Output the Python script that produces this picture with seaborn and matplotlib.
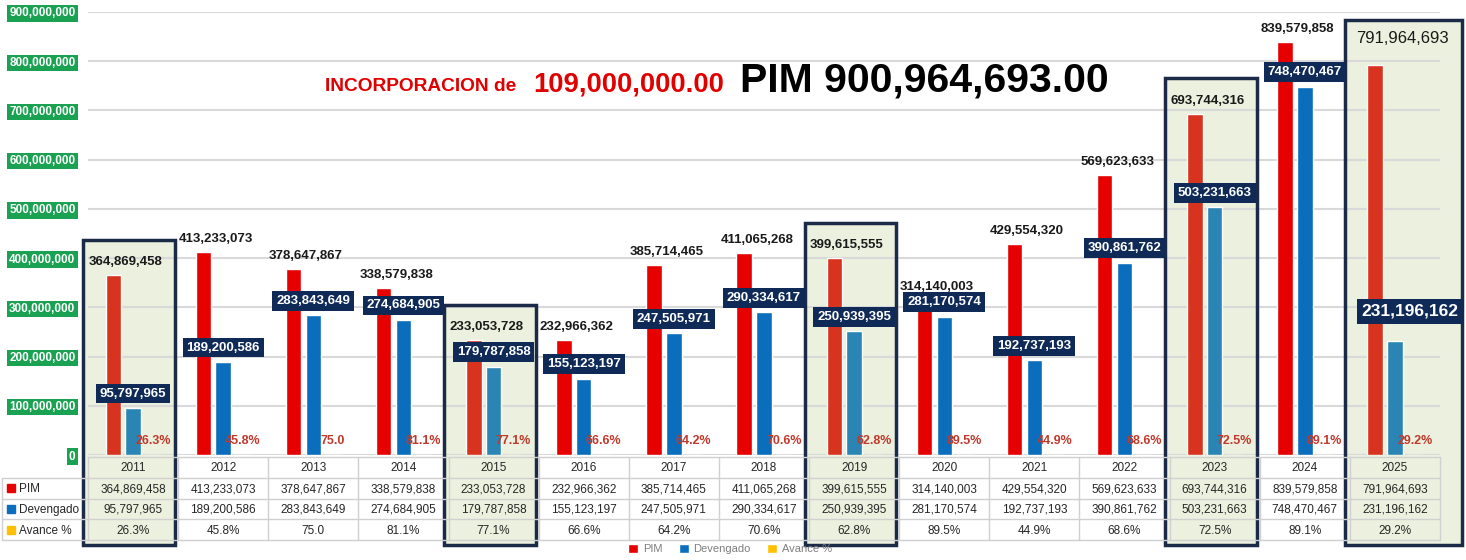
import numpy as np
import pandas as pd
import matplotlib.pyplot as plt
from matplotlib.patches import Rectangle
import seaborn as sns

# data
years = ['2011', '2012', '2013', '2014', '2015', '2016', '2017', '2018',
         '2019', '2020', '2021', '2022', '2023', '2024', '2025']
pim = [364869458, 413233073, 378647867, 338579838, 233053728, 232966362,
       385714465, 411065268, 399615555, 314140003, 429554320, 569623633,
       693744316, 839579858, 791964693]
devengado = [95797965, 189200586, 283843649, 274684905, 179787858, 155123197,
             247505971, 290334617, 250939395, 281170574, 192737193, 390861762,
             503231663, 748470467, 231196162]
avance = [26.3, 45.8, 75.0, 81.1, 77.1, 66.6, 64.2, 70.6, 62.8, 89.5, 44.9,
          68.6, 72.5, 89.1, 29.2]
avance_labels = ['26.3%', '45.8%', '75.0', '81.1%', '77.1%', '66.6%', '64.2%',
                 '70.6%', '62.8%', '89.5%', '44.9%', '68.6%', '72.5%', '89.1%',
                 '29.2%']
highlight = ['2011', '2015', '2019', '2023', '2025']
series = ['PIM', 'Devengado', 'Avance %']

RED, BLUE, YELLOW = '#E60000', '#0A6EBD', '#FFC000'
RED_HL, BLUE_HL = '#D8331E', '#2A84B4'
NAVY = '#0F2A57'
BOX_EDGE = '#1B2A47'
BOX_FILL = '#EBF1DE'

sns.set_style('white')
plt.rcParams['font.family'] = ['Liberation Sans', 'DejaVu Sans']

df = pd.DataFrame({
    'year': years * 3,
    'serie': ['PIM'] * 15 + ['Devengado'] * 15 + ['Avance %'] * 15,
    'valor': pim + devengado + avance,
})

W, H = 1466, 560
fig = plt.figure(figsize=(W / 100, H / 100), dpi=100)
ax = fig.add_axes([88 / W, 105 / H, 1352 / W, 443 / H])
ax.set_facecolor('none')

sns.barplot(data=df, x='year', y='valor', hue='serie', order=years,
            hue_order=series,
            palette={'PIM': RED, 'Devengado': BLUE, 'Avance %': YELLOW},
            width=0.66, gap=0.22, saturation=1, ax=ax, zorder=2)

ax.set_xlim(-0.5, 14.5)
ax.set_ylim(0, 9e8)
ticks = np.arange(0, 9e8 + 1, 1e8)
ax.set_yticks(ticks, labels=[f'{t:,.0f}' for t in ticks])
ax.tick_params(axis='y', length=0, pad=9, labelsize=8.5, labelcolor='white')
for t in ax.get_yticklabels():
    t.set_fontweight('bold')
    t.set_bbox(dict(facecolor='#1AA152', edgecolor='none', pad=1.5))
ax.tick_params(axis='x', labelbottom=False, length=0)
ax.set_xlabel('')
ax.set_ylabel('')
ax.yaxis.grid(True, color='#D9D9D9', lw=1.5)
ax.set_axisbelow(True)
sns.despine(ax=ax, left=True, bottom=True)

# tint bars inside the highlighted columns
for i, y in enumerate(years):
    if y in highlight:
        ax.containers[0][i].set_facecolor(RED_HL)
        ax.containers[1][i].set_facecolor(BLUE_HL)

# highlighted boxes run from above the bars down through the table
fig.canvas.draw()
y_bot = ax.transData.inverted().transform(
    fig.transFigure.transform((0, 15 / H)))[1]
for i, y in enumerate(years):
    if y not in highlight:
        continue
    right = 0.74 if y == years[-1] else 0.47
    top = pim[i] + (92e6 if y == years[-1] else 72e6)
    ax.add_patch(Rectangle((i - 0.55, y_bot), 0.55 + right, top - y_bot,
                           facecolor=BOX_FILL, edgecolor='none',
                           zorder=0.3, clip_on=False))
    ax.add_patch(Rectangle((i - 0.55, y_bot), 0.55 + right, top - y_bot,
                           facecolor='none', edgecolor=BOX_EDGE, lw=2.5,
                           zorder=3, clip_on=False))

# value labels
for i, y in enumerate(years):
    big = y == years[-1]
    ax.annotate(f'{pim[i]:,}', xy=(i + (0.08 if big else -0.08), pim[i]),
                xytext=(0, 14 if big else 5), textcoords='offset points',
                ha='center', va='bottom', fontsize=12 if big else 9.5,
                fontweight='normal' if big else 'bold', color='#1A1A1A',
                zorder=5, annotation_clip=False)
    ax.annotate(f'{devengado[i]:,}', xy=(i + (0.17 if big else 0), devengado[i]),
                xytext=(0, 16 if big else 6), textcoords='offset points',
                ha='center', va='bottom', fontsize=12.5 if big else 9.5,
                fontweight='bold', color='white', zorder=5,
                annotation_clip=False,
                bbox=dict(boxstyle='square,pad=0.3', facecolor=NAVY,
                          edgecolor='none'))
    ax.annotate(avance_labels[i], xy=(i + 0.22, 0), xytext=(0, 6),
                textcoords='offset points', ha='center', va='bottom',
                fontsize=9, fontweight='bold', color='#C0392B', zorder=5)

sns.move_legend(ax, 'center', bbox_to_anchor=(0.475, -0.212), ncol=3,
                frameon=False, title=None, fontsize=8, labelcolor='#7F7F7F',
                handlelength=0.9, handleheight=0.9, handletextpad=0.4,
                columnspacing=1.5)

# data table under the chart
tx = fig.add_axes([88 / W, 20 / H, 1352 / W, 83 / H])
tx.set_xlim(-0.5, 14.5)
tx.set_ylim(4, 0)
tx.axis('off')
grid_c = '#D0D0D0'
x_left = -1.45
for r in range(5):
    tx.plot([-0.5 if r == 0 else x_left, 14.5], [r, r], color=grid_c, lw=1,
            clip_on=False)
for k in range(16):
    tx.plot([k - 0.5, k - 0.5], [0, 4], color=grid_c, lw=1, clip_on=False)
tx.plot([x_left, x_left], [1, 4], color=grid_c, lw=1, clip_on=False)

rows = [[f'{v:,}' for v in pim], [f'{v:,}' for v in devengado], avance_labels]
for i, y in enumerate(years):
    tx.text(i, 0.55, y, ha='center', va='center', fontsize=8.5, color='#262626')
    for r, vals in enumerate(rows):
        tx.text(i, r + 1.55, vals[i], ha='center', va='center', fontsize=8.5,
                color='#262626')
for r, (name, c) in enumerate(zip(series, [RED, BLUE, YELLOW])):
    tx.plot([x_left + 0.1], [r + 1.5], marker='s', ms=6, color=c,
            clip_on=False)
    tx.text(x_left + 0.19, r + 1.55, name, ha='left', va='center',
            fontsize=8.5, color='#262626', clip_on=False)

# headline
base = (H - 91) / H
fig.text(325 / W, base, 'INCORPORACION de', color='#E00000', fontsize=13.8,
         fontweight='bold', va='baseline')
fig.text(533 / W, base, '109,000,000.00', color='#E00000', fontsize=19.8,
         fontweight='bold', va='baseline')
fig.text(740 / W, base, 'PIM 900,964,693.00', color='black', fontsize=29.5,
         fontweight='bold', va='baseline')

plt.savefig('out.png', dpi=100)
